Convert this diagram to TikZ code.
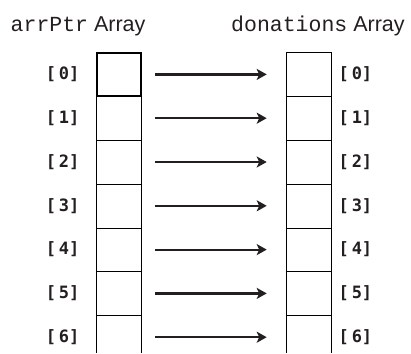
\documentclass[tikz,border=0pt]{standalone}
\usepackage{fontspec}
\setsansfont{Liberation Sans}
\setmonofont{Liberation Mono}
\newfontfamily\idxfont{DejaVu Sans Mono}
\usepackage{xcolor}
\definecolor{arrInk}{HTML}{231F20}
\usetikzlibrary{positioning,arrows.meta}

\tikzset{
  cell/.style={minimum width=44.8pt, minimum height=43.8pt, inner sep=0pt, outer sep=0pt},
  idx/.style={font=\idxfont\bfseries\fontsize{17}{17}\selectfont, inner sep=0pt, text=arrInk},
  link/.style={line width=2.2pt, draw=arrInk, -{Stealth[length=10pt,width=11pt,inset=2.5pt]}, shorten <=14pt, shorten >=19.5pt},
  title/.style={anchor=base west, inner sep=0pt, font=\sffamily\fontsize{21.5}{21.5}\selectfont, text=arrInk}
}

\begin{document}
\begin{tikzpicture}[x=1pt,y=-1pt]
  \useasboundingbox (0,0) rectangle (411,353);
  % titles
  \node[title] (ptrTitle) at (10.5,31) {{\ttfamily arrPtr} Array};
  \node[title] (donTitle) at (231,31) {{\ttfamily donations} Array};
  % both arrays with their index labels
  \foreach \i in {0,...,6} {
    \node[cell] (ptr\i) at (119,{74.4+43.8*\i}) {};
    \node[cell] (don\i) at (308.6,{74.4+43.8*\i}) {};
    \node[idx, left=17pt of ptr\i] (ptrIdx\i) {[\,\i]};
    \node[idx, right=7.5pt of don\i] (donIdx\i) {[\,\i]};
    \draw[link] (ptr\i) -- (don\i);
  }
  \foreach \i in {1,...,5} {
    \draw (ptr\i.north west) rectangle (ptr\i.south east);
    \draw (don\i.north west) rectangle (don\i.south east);
  }
  % last row is open at the bottom
  \draw (ptr6.north west) -- (ptr6.west |- 0,353);
  \draw (ptr6.north east) -- (ptr6.east |- 0,353);
  \draw (don6.north west) -- (don6.west |- 0,353);
  \draw (don6.north east) -- (don6.east |- 0,353);
  \draw (don0.north west) rectangle (don0.south east);
  \draw[line width=2pt] (ptr0.north west) rectangle (ptr0.south east);
\end{tikzpicture}
\end{document}
